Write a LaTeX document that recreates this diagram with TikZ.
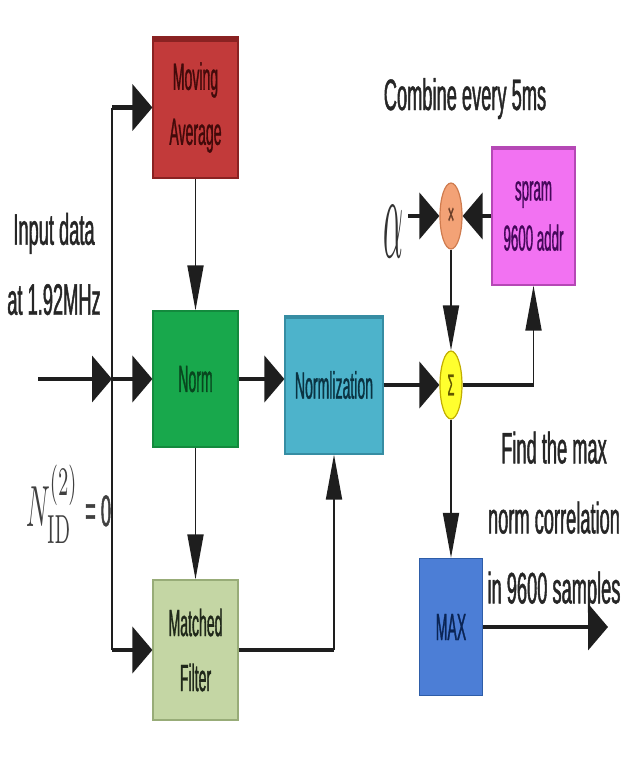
\documentclass[tikz,border=0pt]{standalone}
\usepackage[no-math]{fontspec}
\setmainfont{Liberation Sans}[FakeStretch=0.415,FakeBold=1]
\newfontfamily\boxfont{Liberation Sans}[FakeStretch=0.37,FakeBold=0.8]
\usepackage{xcolor}
\usetikzlibrary{arrows.meta,shapes.geometric}

\definecolor{mavgfill}{HTML}{C23A3A}
\definecolor{mavgline}{HTML}{8A2222}
\definecolor{mavgtext}{HTML}{420A0A}
\definecolor{normfill}{HTML}{18A84C}
\definecolor{normline}{HTML}{138A3D}
\definecolor{normtext}{HTML}{08461E}
\definecolor{mffill}{HTML}{C4D6A4}
\definecolor{mfline}{HTML}{98AC78}
\definecolor{mftext}{HTML}{20281A}
\definecolor{nzfill}{HTML}{4DB3CB}
\definecolor{nzline}{HTML}{368DA3}
\definecolor{nztext}{HTML}{0A3342}
\definecolor{spfill}{HTML}{F272F2}
\definecolor{spline}{HTML}{B548B5}
\definecolor{sptext}{HTML}{44085A}
\definecolor{mxfill}{HTML}{4C7ED6}
\definecolor{mxline}{HTML}{2E5DA8}
\definecolor{mxtext}{HTML}{0A2454}
\definecolor{mulfill}{HTML}{F3A276}
\definecolor{mulline}{HTML}{CF7B4E}
\definecolor{sumfill}{HTML}{FFFF2E}
\definecolor{sumline}{HTML}{C2AE00}
\definecolor{wire}{HTML}{1E1E1E}

\tikzset{
	blk/.style={draw, line width=1.2pt, inner sep=0pt, align=center, font=\boxfont\fontsize{38}{55}\selectfont},
	jn/.style={ellipse, draw, line width=1.2pt, inner sep=0pt, minimum width=22pt, minimum height=66pt, font=\boxfont\fontsize{30}{30}\selectfont},
	lbl/.style={align=center, inner sep=0pt, text=black!85, font=\fontsize{44}{70}\selectfont},
	hw/.style={line width=4.5pt, wire},
	vw/.style={line width=1.8pt, wire},
	harr/.style={-{Triangle[length=20pt,width=46pt]}},
	varr/.style={-{Triangle[length=45pt,width=16pt]}}
}

\begin{document}
\begin{tikzpicture}[x=1pt,y=-1pt]
			\useasboundingbox (0,0) rectangle (624,758);
			
			\node[blk, fill=mavgfill, draw=mavgline, text=mavgtext, minimum width=85pt, minimum height=141pt] (mavg) at (195.5,107.5) {Moving\\Average};
			\node[blk, fill=normfill, draw=normline, text=normtext, minimum width=85pt, minimum height=136pt] (norm) at (195.5,379) {Norm};
			\node[blk, fill=mffill, draw=mfline, text=mftext, minimum width=85pt, minimum height=140pt] (mf) at (195.5,650) {Matched\\Filter};
			\node[blk, fill=nzfill, draw=nzline, text=nztext, minimum width=98pt, minimum height=138pt] (nz) at (334,385) {Normlization};
			\node[blk, fill=spfill, draw=spline, text=sptext, minimum width=83pt, minimum height=138pt, font=\boxfont\fontsize{36}{50}\selectfont] (spram) at (533.5,216) {spram\\9600 addr};
			\node[blk, fill=mxfill, draw=mxline, text=mxtext, minimum width=63pt, minimum height=137pt] (mx) at (451,627) {MAX};
			\node[jn, fill=mulfill, draw=mulline, text=mulline!50!black] (mul) at (451,216) {×};
			\node[jn, fill=sumfill, draw=sumline, text=sumline!50!black, minimum height=68pt] (sum) at (451,385) {Σ};
			
			\draw[line width=6pt, mavgline] ([yshift=-3pt]mavg.north west) -- ([yshift=-3pt]mavg.north east);
			\draw[line width=4pt, nzline] ([yshift=-2pt]nz.north west) -- ([yshift=-2pt]nz.north east);
			\draw[line width=4pt, spline] ([yshift=-2pt]spram.north west) -- ([yshift=-2pt]spram.north east);
			
			\node[lbl] (inlbl) at (54,264) {Input data\\at 1.92MHz};
			\node[lbl, anchor=base] (comb) at (465,110) {Combine every 5ms};
			\node[lbl] (findlbl) at (554,522) {Find the max\\norm correlation\\in 9600 samples};
			\node[lbl, anchor=base west, text=black!75] (nid) at (26,526) {\scalebox{2.6}[5.8]{\normalsize$N_{\mathrm{ID}}^{(2)}$}\,= 0};
			\node[inner sep=0pt, text=black!80] (alpha) at (393,232) {\scalebox{3.1}[12]{\normalsize$\alpha$}};
			
			\coordinate (src) at (38,379);
			\coordinate (trk) at (112,0);
			\coordinate (out) at (608,627);
			
			\draw[vw] (trk |- mavg) -- (trk |- mf);
			\draw[hw,harr] (src) -- (trk |- norm);
			\draw[hw,harr] (trk |- mavg) -- (mavg);
			\draw[hw,harr] (trk |- norm) -- (norm);
			\draw[hw,harr] (trk |- mf) -- (mf);
			
			\draw[vw,varr] (mavg) -- (norm);
			\draw[vw,varr] (norm) -- (mf);
			\draw[hw,harr] (norm) -- (norm -| nz.west);
			\draw[hw] (mf) -- (nz |- mf);
			\draw[vw,varr] (nz |- mf) -- (nz);
			
			\draw[hw,harr] (nz) -- (sum);
			\draw[hw] (sum) -- (spram |- sum);
			\draw[vw,varr] (spram |- sum) -- (spram);
			\draw[hw,harr] (spram) -- (mul);
			\draw[hw,harr, shorten <=5pt] (alpha.east |- mul) -- (mul);
			\draw[vw,varr] (mul) -- (sum);
			\draw[vw,varr] (sum) -- (mx);
			\draw[hw,harr] (mx) -- (out);
\end{tikzpicture}
\end{document}
